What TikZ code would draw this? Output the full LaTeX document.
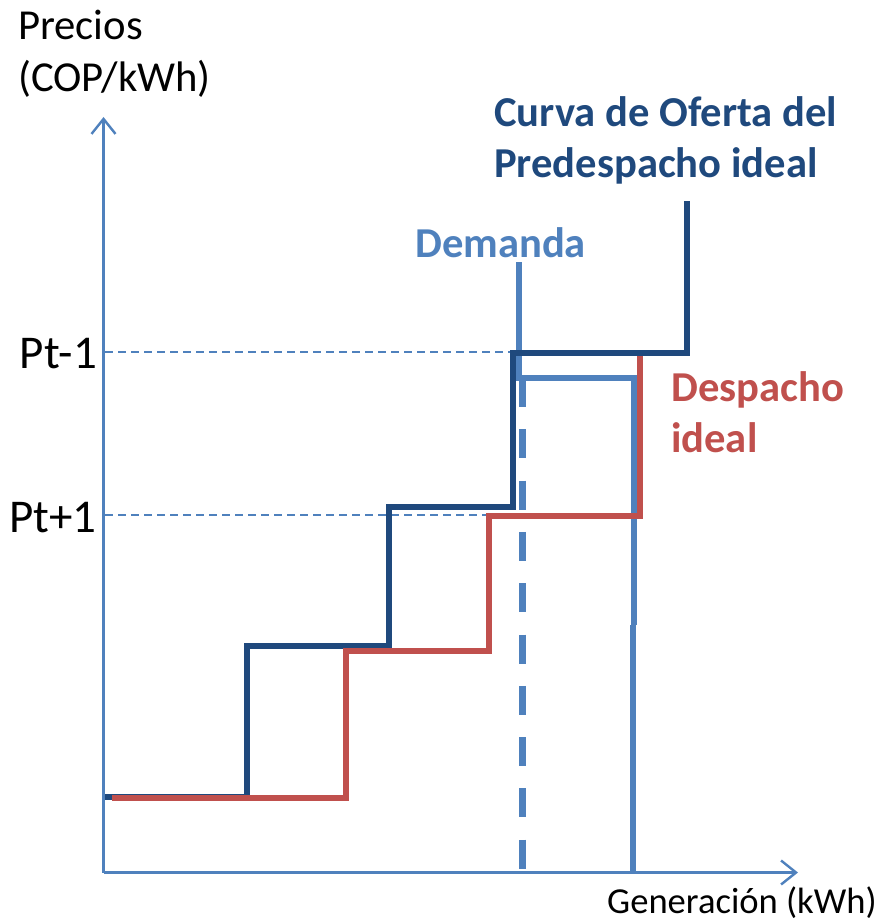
\documentclass[tikz,border=0pt]{standalone}
\usepackage{fontspec}
\setmainfont{Carlito}
\usetikzlibrary{arrows.meta}
\definecolor{navy}{HTML}{1F497D}
\definecolor{lblue}{HTML}{4F81BD}
\definecolor{dred}{HTML}{C0504D}
\begin{document}
\begin{tikzpicture}[x=1pt,y=-1pt,
  axisline/.style={lblue, line width=2.6pt, -{Straight Barb[length=15pt,width=24pt,line width=2.4pt]}},
  guide/.style={lblue, line width=1.4pt, dash pattern=on 8pt off 5pt},
  offer/.style={navy, line width=6pt, line join=miter},
  dispatch/.style={dred, line width=6pt, line join=miter},
  demand/.style={lblue, line width=6pt, line join=miter},
  demanddash/.style={lblue, line width=7pt, dash pattern=on 29pt off 22.3pt},
  axislabel/.style={font=\fontsize{42.7}{52}\selectfont, text=black, inner sep=0pt, anchor=base west},
  pricelabel/.style={font=\fontsize{47}{52}\selectfont, text=black, inner sep=0pt, anchor=base east},
  curvelabel/.style={font=\bfseries\fontsize{42.6}{51}\selectfont, inner sep=0pt, anchor=base west, align=left}]
\useasboundingbox (0,0) rectangle (886,923);

% axes
\coordinate (O) at (103.5,872.5);
\coordinate (ytip) at (103.5,117);
\coordinate (xtip) at (798,872.5);

% labels
\node[axislabel] (ylab1) at (18,40) {Precios};
\node[axislabel] (ylab2) at (18,92) {(COP/kWh)};
\node[axislabel, font=\fontsize{36.6}{43}\selectfont] (xlab) at (607,913) {Generación (kWh)};
\node[pricelabel] (pt1) at (97,368) {Pt-1};
\node[pricelabel] (pt2) at (97,532) {Pt+1};
\node[curvelabel, text=navy] (oferta) at (494,177) {Curva de Oferta del\\Predespacho ideal};
\node[curvelabel, text=lblue] (dem) at (415,257) {Demanda};
\node[curvelabel, text=dred] (desp) at (671,452) {Despacho\\ideal};

% guide lines
\coordinate (g1a) at (105,352);
\coordinate (g1b) at (512,352);
\coordinate (g2a) at (105,515);
\coordinate (g2b) at (488,515);
\draw[guide] (g1a) -- (g1b);
\draw[guide] (g2a) -- (g2b);

% demand (light blue)
\coordinate (d0) at (518.5,262);
\coordinate (d1) at (518.5,378);
\coordinate (d2) at (634,378);
\coordinate (d3) at (634,625);
\coordinate (d4) at (632.5,625);
\coordinate (d5) at (632.5,872);
\draw[demand] (d0) -- (d1) -- (d2) -- (d3);
\draw[demand] (d4) -- (d5);
\coordinate (dd0) at (522.5,378);
\coordinate (dd1) at (522.5,870);
\draw[demanddash] (dd0) -- (dd1);

% offer curve (dark blue)
\coordinate (o0) at (104,797);
\coordinate (o1) at (247,797);
\coordinate (o2) at (247,646);
\coordinate (o3) at (389,646);
\coordinate (o4) at (389,507);
\coordinate (o5) at (512.5,507);
\coordinate (o6) at (512.5,352.5);
\coordinate (o7) at (687,352.5);
\coordinate (o8) at (687,201);
\draw[offer] (o0) -- (o1) -- (o2) -- (o3) -- (o4) -- (o5) -- (o6) -- (o7) -- (o8);

% dispatch (red)
\coordinate (r0) at (112,797.5);
\coordinate (r1) at (346,797.5);
\coordinate (r2) at (346,650.5);
\coordinate (r3) at (488.5,650.5);
\coordinate (r4) at (488.5,515.5);
\coordinate (r5) at (640,515.5);
\coordinate (r6) at (640,355.5);
\draw[dispatch] (r0) -- (r1) -- (r2) -- (r3) -- (r4) -- (r5) -- (r6);

% axes drawn
\draw[axisline] (O) -- (ytip);
\draw[axisline] (O) -- (xtip);
\end{tikzpicture}
\end{document}
